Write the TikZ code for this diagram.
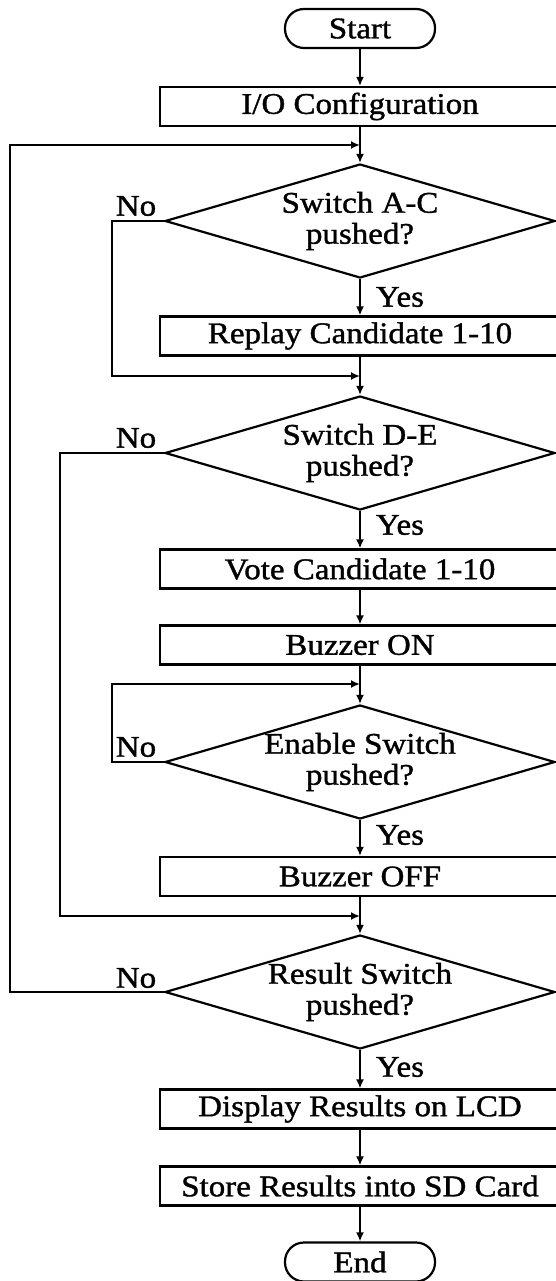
\documentclass[tikz,border=0pt]{standalone}
\usepackage{fontspec}
\newfontfamily\dfont[FakeStretch=1.1,FakeBold=1.2]{Liberation Serif}
\usetikzlibrary{arrows.meta,shapes.geometric}
\begin{document}
\begin{tikzpicture}[x=1pt,y=-1pt,
  every node/.style={font=\dfont\fontsize{30}{31}\selectfont},
  proc/.style={draw,line width=2.2pt,minimum width=400pt,minimum height=39pt,inner sep=0pt},
  term/.style={draw,line width=2.2pt,rounded corners=19pt,minimum width=150pt,minimum height=39pt,inner sep=0pt},
  dec/.style={draw,diamond,line width=2.2pt,minimum width=390pt,minimum height=114pt,inner sep=0pt,shape aspect=3.42},
  dtxt/.style={align=center,inner sep=0pt},
  lbl/.style={inner sep=0pt},
  arr/.style={line width=2.2pt,-{Latex[length=9pt,width=8pt]}}]
\useasboundingbox[fill=white] (0,0) rectangle (555,1281);
% nodes
\node[term] (start) at (360,28.5) {Start};
\node[proc] (io) at (360,106.5) {I/O Configuration};
\node[dec] (d1) at (360,221) {};
\node[dtxt] (d1t) at (d1.center) {Switch A-C\\pushed?};
\node[proc] (rep) at (360,336) {Replay Candidate 1-10};
\node[dec] (d2) at (360,453) {};
\node[dtxt] (d2t) at (d2.center) {Switch D-E\\pushed?};
\node[proc] (vote) at (360,569) {Vote Candidate 1-10};
\node[proc] (bon) at (360,645) {Buzzer ON};
\node[dec] (d3) at (360,762) {};
\node[dtxt] (d3t) at (d3.center) {Enable Switch\\pushed?};
\node[proc] (boff) at (360,876.5) {Buzzer OFF};
\node[dec] (d4) at (360,992) {};
\node[dtxt] (d4t) at (d4.center) {Result Switch\\pushed?};
\node[proc] (disp) at (360,1109) {Display Results on LCD};
\node[proc] (store) at (360,1186) {Store Results into SD Card};
\node[term] (end) at (360,1262) {End};
% labels
\node[lbl] (no1) at (136,206) {No};
\node[lbl] (no2) at (136,438) {No};
\node[lbl] (no3) at (136,747) {No};
\node[lbl] (no4) at (136,978) {No};
\node[lbl] (yes1) at (400,297) {Yes};
\node[lbl] (yes2) at (400,525) {Yes};
\node[lbl] (yes3) at (400,835) {Yes};
\node[lbl] (yes4) at (400,1067) {Yes};
% junction coordinates
\coordinate (j1) at (360,145);
\coordinate (o1) at (10,145);
\coordinate (j2) at (360,376);
\coordinate (o2) at (112,376);
\coordinate (j3) at (360,916);
\coordinate (o3) at (60,916);
\coordinate (j4) at (360,684);
\coordinate (o4) at (112,684);
% main flow
\draw[arr] (start) -- (io);
\draw[arr] (io) -- (d1);
\draw[arr] (d1) -- (rep);
\draw[arr] (rep) -- (d2);
\draw[arr] (d2) -- (vote);
\draw[arr] (vote) -- (bon);
\draw[arr] (bon) -- (d3);
\draw[arr] (d3) -- (boff);
\draw[arr] (boff) -- (d4);
\draw[arr] (d4) -- (disp);
\draw[arr] (disp) -- (store);
\draw[arr] (store) -- (end);
% loops
\draw[arr] (d4.west) -| (o1) -- (j1);
\draw[arr] (d1.west) -| (o2) -- (j2);
\draw[arr] (d2.west) -| (o3) -- (j3);
\draw[arr] (d3.west) -| (o4) -- (j4);
\end{tikzpicture}
\end{document}
